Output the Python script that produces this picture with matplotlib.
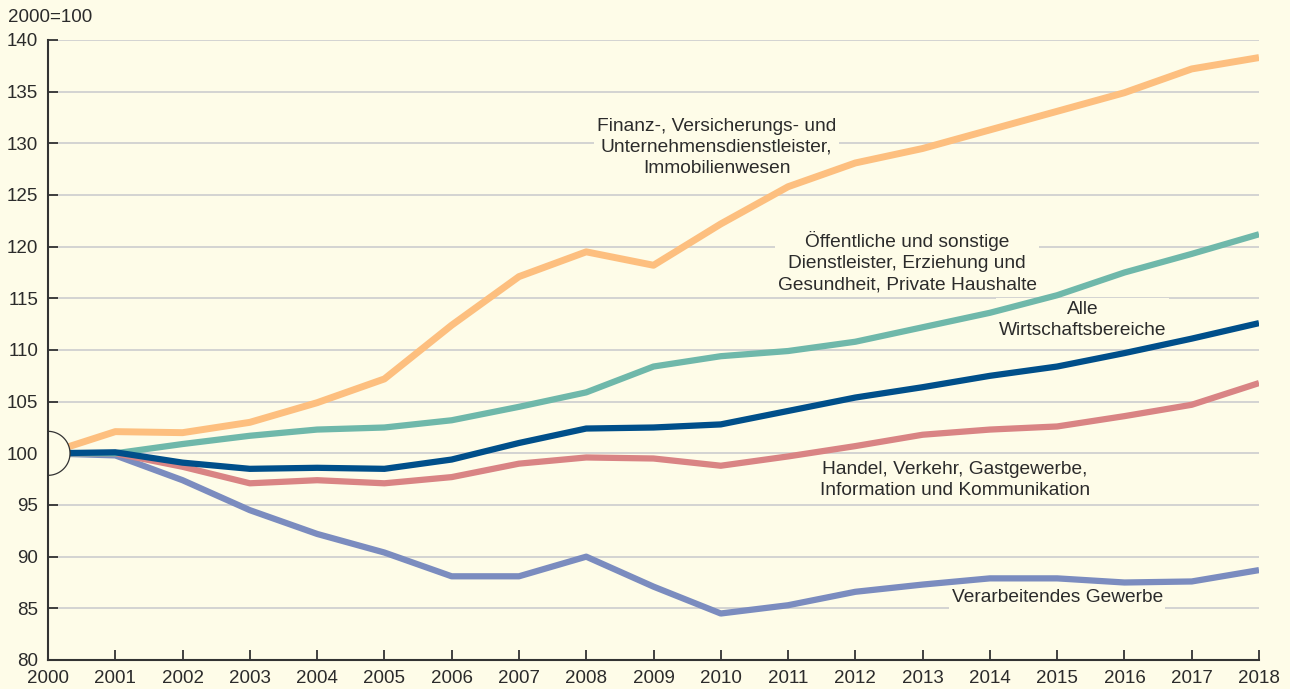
import numpy as np
import matplotlib
matplotlib.use("Agg")
import matplotlib.pyplot as plt
from matplotlib.patches import Polygon

plt.rcParams['font.family'] = ['Liberation Sans', 'DejaVu Sans']

years = list(range(2000, 2019))

finanz = [100.0, 102.1, 102.0, 103.0, 104.9, 107.2, 112.4, 117.1, 119.5, 118.2,
          122.2, 125.8, 128.1, 129.5, 131.3, 133.1, 134.9, 137.2, 138.3]
oeffentlich = [100.0, 100.0, 100.9, 101.7, 102.3, 102.5, 103.2, 104.5, 105.9, 108.4,
               109.4, 109.9, 110.8, 112.2, 113.6, 115.3, 117.5, 119.3, 121.2]
alle = [100.0, 100.1, 99.1, 98.5, 98.6, 98.5, 99.4, 101.0, 102.4, 102.5,
        102.8, 104.1, 105.4, 106.4, 107.5, 108.4, 109.7, 111.1, 112.6]
handel = [100.0, 100.0, 98.7, 97.1, 97.4, 97.1, 97.7, 99.0, 99.6, 99.5,
          98.8, 99.7, 100.7, 101.8, 102.3, 102.6, 103.6, 104.7, 106.8]
verarbeitend = [100.0, 99.8, 97.4, 94.5, 92.2, 90.4, 88.1, 88.1, 90.0, 87.1,
                84.5, 85.3, 86.6, 87.3, 87.9, 87.9, 87.5, 87.6, 88.7]

label_finanz = "Finanz-, Versicherungs- und\nUnternehmensdienstleister,\nImmobilienwesen"
label_oeff = "Öffentliche und sonstige\nDienstleister, Erziehung und\nGesundheit, Private Haushalte"
label_alle = "Alle\nWirtschaftsbereiche"
label_handel = "Handel, Verkehr, Gastgewerbe,\nInformation und Kommunikation"
label_verarb = "Verarbeitendes Gewerbe"

BG = '#FEFCE8'
TXT = '#2b2b2b'

fig = plt.figure(figsize=(12.9, 6.89), dpi=100)
fig.patch.set_facecolor(BG)
ax = fig.add_axes([48 / 1290, 29 / 689, 1211 / 1290, 620 / 689])
ax.set_facecolor(BG)

ax.set_xlim(2000, 2018)
ax.set_ylim(80, 140)

# grid
for v in range(85, 141, 5):
    ax.axhline(v, color='#c8c8cc', lw=1.1, zorder=1)

# series
ax.plot(years, verarbeitend, color='#7b8cbf', lw=4.5, zorder=5, solid_capstyle='butt')
ax.plot(years, handel, color='#d98484', lw=4.5, zorder=5, solid_capstyle='butt')
ax.plot(years, oeffentlich, color='#6fb8aa', lw=4.5, zorder=5, solid_capstyle='butt')
ax.plot(years, finanz, color='#fdbf7f', lw=5.0, zorder=5, solid_capstyle='butt')
ax.plot(years, alle, color='#004f8a', lw=4.5, zorder=6, solid_capstyle='butt')

# labels with background boxes
box = dict(facecolor=BG, edgecolor='none', pad=2)
kw = dict(ha='center', va='center', fontsize=13.8, color=TXT, linespacing=1.3,
          bbox=box, zorder=3)
ax.text(2009.94, 129.6, label_finanz, **kw)
ax.text(2012.77, 118.5, label_oeff, **kw)
ax.text(2015.38, 112.9, label_alle, **kw)
ax.text(2013.48, 97.4, label_handel, **kw)
ax.text(2015.0, 86.0, label_verarb, **kw)

# half circle marker at base year
t = np.linspace(-np.pi / 2, np.pi / 2, 60)
rx, ry = 22 / 67.28, 22 / 10.333
pts = np.column_stack([2000 + rx * np.cos(t), 100 + ry * np.sin(t)])
ax.add_patch(Polygon(pts, closed=True, facecolor=BG, edgecolor='#333333',
                     lw=0.9, zorder=8, clip_on=False))

# axes styling
for s in ['top', 'right']:
    ax.spines[s].set_visible(False)
for s in ['left', 'bottom']:
    ax.spines[s].set_color('#333333')
    ax.spines[s].set_linewidth(1.5)
    ax.spines[s].set_zorder(9)

ax.set_xticks(years)
ax.set_xticklabels([str(y) for y in years])
ax.set_yticks(range(80, 141, 5))
ax.tick_params(axis='both', direction='in', length=7.5, width=1.3, color='#333333',
               labelsize=13.5, labelcolor=TXT)
ax.tick_params(axis='y', pad=7)
ax.tick_params(axis='x', pad=7.5)
for lab in ax.get_yticklabels():
    lab.set_verticalalignment('center_baseline')

fig.text(8 / 1290, 1 - 17 / 689, "2000=100", ha='left', va='center',
         fontsize=13.5, color=TXT)

fig.savefig('out.png', dpi=100, facecolor=BG)
